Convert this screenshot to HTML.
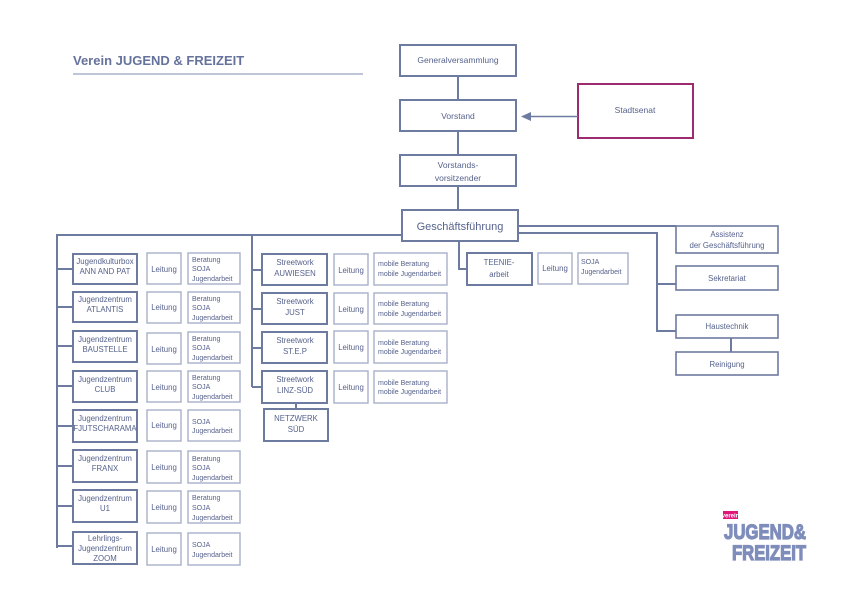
<!DOCTYPE html>
<html><head><meta charset="utf-8"><style>
html,body{margin:0;padding:0;background:#fff}
svg{display:block}
text{font-family:"Liberation Sans",sans-serif;fill:#56628c;text-anchor:middle}
.d{fill:#fff;stroke:#6e7ba0;stroke-width:2}
.l{fill:#fff;stroke:#a7b0ca;stroke-width:1.4}
.ln{stroke:#6e7ba0;stroke-width:2;fill:none}
.s{font-size:7.8px}
.t{font-size:7px;text-anchor:start}
</style></head><body>
<svg width="842" height="595" viewBox="0 0 842 595">
<text x="73" y="65" style="font-size:13px;font-weight:bold;text-anchor:start;fill:#65729c">Verein JUGEND &amp; FREIZEIT</text>
<line x1="73" y1="74" x2="363" y2="74" stroke="#a9b2cb" stroke-width="1.5"/>

<!-- top chain -->
<line class="ln" x1="458" y1="76" x2="458" y2="210"/>
<rect class="d" x="400" y="45" width="116" height="31"/>
<text x="458" y="63" style="font-size:8.5px">Generalversammlung</text>
<rect class="d" x="400" y="100" width="116" height="31"/>
<text x="458" y="119" style="font-size:8.5px">Vorstand</text>
<rect x="578" y="84" width="115" height="54" fill="#fff" stroke="#9c2c6f" stroke-width="2"/>
<text x="635" y="113" style="font-size:8.5px">Stadtsenat</text>
<line x1="578" y1="116.5" x2="528" y2="116.5" stroke="#6e7ba0" stroke-width="1.5"/>
<polygon points="521,116.5 531,112 531,121" fill="#6e7ba0"/>
<rect class="d" x="400" y="155" width="116" height="31"/>
<text x="458" y="168" style="font-size:8.5px">Vorstands-</text>
<text x="458" y="181" style="font-size:8.5px">vorsitzender</text>

<!-- connectors -->
<polyline class="ln" points="402,235 57,235 57,548"/>
<line class="ln" x1="252" y1="235" x2="252" y2="387"/>
<polyline class="ln" points="459,241 459,269 467,269"/>
<line class="ln" x1="518" y1="226" x2="676" y2="226"/>
<polyline class="ln" points="518,233 657,233 657,331 676,331"/>
<line class="ln" x1="657" y1="284" x2="676" y2="284"/>
<line class="ln" x1="731" y1="338" x2="731" y2="352"/>
<line class="ln" x1="296" y1="403" x2="296" y2="409"/>

<rect class="d" x="402" y="210" width="116" height="31"/>
<text x="460" y="230" style="font-size:11px">Geschäftsführung</text>

<!-- right side -->
<rect class="d" x="676" y="226" width="102" height="27" style="stroke-width:1.6"/>
<text x="727" y="237" class="s">Assistenz</text>
<text x="727" y="248" class="s">der Geschäftsführung</text>
<rect class="d" x="676" y="266" width="102" height="24" style="stroke-width:1.6"/>
<text x="727" y="281" class="s">Sekretariat</text>
<rect class="d" x="676" y="315" width="102" height="23" style="stroke-width:1.6"/>
<text x="727" y="329" class="s">Haustechnik</text>
<rect class="d" x="676" y="352" width="102" height="23" style="stroke-width:1.6"/>
<text x="727" y="367" class="s">Reinigung</text>

<!-- TEENIE -->
<rect class="d" x="467" y="253" width="65" height="32"/>
<text x="499" y="265" class="s">TEENIE-</text>
<text x="499" y="277" class="s">arbeit</text>
<rect class="l" x="538" y="253" width="34" height="31"/>
<text x="555" y="271" class="s">Leitung</text>
<rect class="l" x="578" y="253" width="50" height="31"/>
<text x="581" y="264" class="t">SOJA</text>
<text x="581" y="274" class="t">Jugendarbeit</text>

<!-- left column -->
<g>
<line class="ln" x1="57" y1="269" x2="73" y2="269"/>
<line class="ln" x1="57" y1="307" x2="73" y2="307"/>
<line class="ln" x1="57" y1="346" x2="73" y2="346"/>
<line class="ln" x1="57" y1="386" x2="73" y2="386"/>
<line class="ln" x1="57" y1="426" x2="73" y2="426"/>
<line class="ln" x1="57" y1="466" x2="73" y2="466"/>
<line class="ln" x1="57" y1="506" x2="73" y2="506"/>
<line class="ln" x1="57" y1="546" x2="73" y2="546"/>
</g>
<rect class="d" x="73" y="254" width="64" height="30"/>
<text x="105" y="264" class="s">Jugendkulturbox</text><text x="105" y="274" class="s">ANN AND PAT</text>
<rect class="d" x="73" y="292" width="64" height="30"/>
<text x="105" y="302" class="s">Jugendzentrum</text><text x="105" y="312" class="s">ATLANTIS</text>
<rect class="d" x="73" y="331" width="64" height="31"/>
<text x="105" y="342" class="s">Jugendzentrum</text><text x="105" y="352" class="s">BAUSTELLE</text>
<rect class="d" x="73" y="371" width="64" height="31"/>
<text x="105" y="382" class="s">Jugendzentrum</text><text x="105" y="392" class="s">CLUB</text>
<rect class="d" x="73" y="410" width="64" height="32"/>
<text x="105" y="421" class="s">Jugendzentrum</text><text x="105" y="431" class="s">FJUTSCHARAMA</text>
<rect class="d" x="73" y="450" width="64" height="32"/>
<text x="105" y="461" class="s">Jugendzentrum</text><text x="105" y="471" class="s">FRANX</text>
<rect class="d" x="73" y="490" width="64" height="32"/>
<text x="105" y="501" class="s">Jugendzentrum</text><text x="105" y="511" class="s">U1</text>
<rect class="d" x="73" y="532" width="64" height="32"/>
<text x="105" y="541" class="s">Lehrlings-</text><text x="105" y="551" class="s">Jugendzentrum</text><text x="105" y="561" class="s">ZOOM</text>

<g>
<rect class="l" x="147" y="253" width="34" height="31"/><text x="164" y="272" class="s">Leitung</text>
<rect class="l" x="147" y="292" width="34" height="31"/><text x="164" y="310" class="s">Leitung</text>
<rect class="l" x="147" y="333" width="34" height="31"/><text x="164" y="352" class="s">Leitung</text>
<rect class="l" x="147" y="371" width="34" height="31"/><text x="164" y="390" class="s">Leitung</text>
<rect class="l" x="147" y="410" width="34" height="31"/><text x="164" y="428" class="s">Leitung</text>
<rect class="l" x="147" y="451" width="34" height="32"/><text x="164" y="470" class="s">Leitung</text>
<rect class="l" x="147" y="491" width="34" height="32"/><text x="164" y="510" class="s">Leitung</text>
<rect class="l" x="147" y="533" width="34" height="32"/><text x="164" y="552" class="s">Leitung</text>
</g>
<g>
<rect class="l" x="188" y="253" width="52" height="31"/><text x="192" y="262" class="t">Beratung</text><text x="192" y="271" class="t">SOJA</text><text x="192" y="281" class="t">Jugendarbeit</text>
<rect class="l" x="188" y="292" width="52" height="31"/><text x="192" y="301" class="t">Beratung</text><text x="192" y="310" class="t">SOJA</text><text x="192" y="320" class="t">Jugendarbeit</text>
<rect class="l" x="188" y="332" width="52" height="31"/><text x="192" y="341" class="t">Beratung</text><text x="192" y="350" class="t">SOJA</text><text x="192" y="360" class="t">Jugendarbeit</text>
<rect class="l" x="188" y="371" width="52" height="31"/><text x="192" y="380" class="t">Beratung</text><text x="192" y="389" class="t">SOJA</text><text x="192" y="399" class="t">Jugendarbeit</text>
<rect class="l" x="188" y="410" width="52" height="31"/><text x="192" y="424" class="t">SOJA</text><text x="192" y="433" class="t">Jugendarbeit</text>
<rect class="l" x="188" y="451" width="52" height="32"/><text x="192" y="461" class="t">Beratung</text><text x="192" y="470" class="t">SOJA</text><text x="192" y="480" class="t">Jugendarbeit</text>
<rect class="l" x="188" y="491" width="52" height="32"/><text x="192" y="500" class="t">Beratung</text><text x="192" y="510" class="t">SOJA</text><text x="192" y="520" class="t">Jugendarbeit</text>
<rect class="l" x="188" y="533" width="52" height="32"/><text x="192" y="547" class="t">SOJA</text><text x="192" y="557" class="t">Jugendarbeit</text>
</g>

<!-- middle column -->
<line class="ln" x1="252" y1="270" x2="262" y2="270"/>
<line class="ln" x1="252" y1="309" x2="262" y2="309"/>
<line class="ln" x1="252" y1="348" x2="262" y2="348"/>
<line class="ln" x1="252" y1="387" x2="262" y2="387"/>
<rect class="d" x="262" y="254" width="65" height="31"/><text x="295" y="265" class="s">Streetwork</text><text x="295" y="276" class="s">AUWIESEN</text>
<rect class="d" x="262" y="293" width="65" height="31"/><text x="295" y="304" class="s">Streetwork</text><text x="295" y="315" class="s">JUST</text>
<rect class="d" x="262" y="332" width="65" height="31"/><text x="295" y="343" class="s">Streetwork</text><text x="295" y="354" class="s">ST.E.P</text>
<rect class="d" x="262" y="371" width="65" height="32"/><text x="295" y="382" class="s">Streetwork</text><text x="295" y="393" class="s">LINZ-SÜD</text>
<rect class="d" x="264" y="409" width="64" height="32"/><text x="296" y="421" class="s">NETZWERK</text><text x="296" y="432" class="s">SÜD</text>
<g>
<rect class="l" x="334" y="254" width="34" height="31"/><text x="351" y="273" class="s">Leitung</text>
<rect class="l" x="334" y="293" width="34" height="31"/><text x="351" y="312" class="s">Leitung</text>
<rect class="l" x="334" y="331" width="34" height="32"/><text x="351" y="350" class="s">Leitung</text>
<rect class="l" x="334" y="371" width="34" height="32"/><text x="351" y="390" class="s">Leitung</text>
<rect class="l" x="374" y="253" width="73" height="32"/><text x="378" y="266" class="t">mobile Beratung</text><text x="378" y="276" class="t">mobile Jugendarbeit</text>
<rect class="l" x="374" y="293" width="73" height="31"/><text x="378" y="306" class="t">mobile Beratung</text><text x="378" y="316" class="t">mobile Jugendarbeit</text>
<rect class="l" x="374" y="331" width="73" height="32"/><text x="378" y="345" class="t">mobile Beratung</text><text x="378" y="354" class="t">mobile Jugendarbeit</text>
<rect class="l" x="374" y="371" width="73" height="32"/><text x="378" y="385" class="t">mobile Beratung</text><text x="378" y="394" class="t">mobile Jugendarbeit</text>
</g>

<!-- logo -->
<rect x="723" y="511" width="15" height="8" fill="#e0157a"/>
<text x="730.5" y="517.5" style="font-size:6px;fill:#fff;font-weight:bold">verein</text>
<text x="765" y="539" style="font-size:21px;font-weight:bold;fill:#7f8dbb;stroke:#7f8dbb;stroke-width:1.2" textLength="82" lengthAdjust="spacingAndGlyphs">JUGEND&amp;</text>
<text x="769" y="560" style="font-size:21px;font-weight:bold;fill:#7f8dbb;stroke:#7f8dbb;stroke-width:1.2" textLength="74" lengthAdjust="spacingAndGlyphs">FREIZEIT</text>
</svg>
</body></html>
